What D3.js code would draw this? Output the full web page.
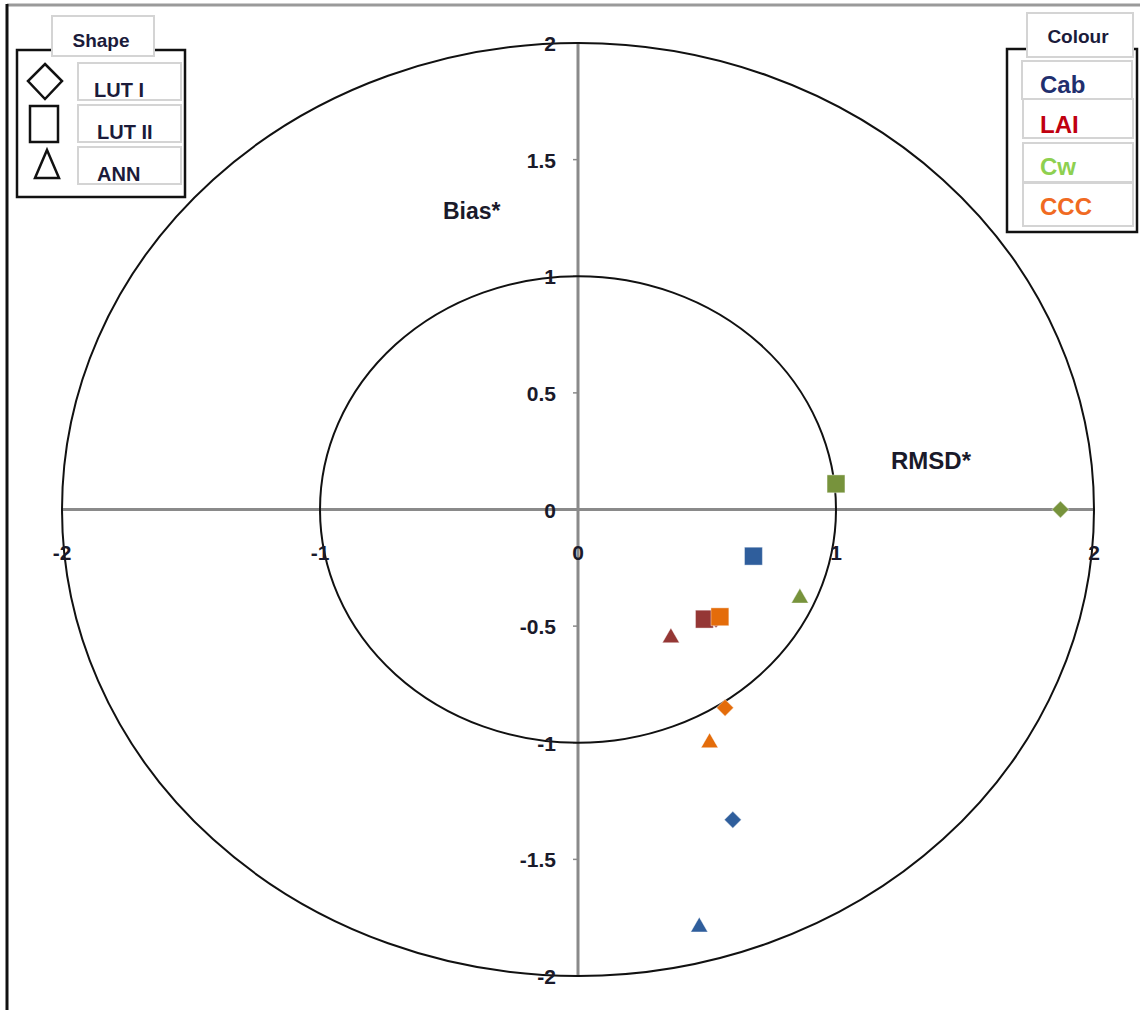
<!DOCTYPE html>
<html>
<head>
<meta charset="utf-8">
<script src="https://cdn.jsdelivr.net/npm/d3@7"></script>
<style>
  body { margin: 0; background: #fff; }
  svg text { font-family: "Liberation Sans", Arial, sans-serif; }
</style>
</head>
<body>
<div id="grafica"></div>
<script>
// Datos: variables (color) y métodos (forma)
const variables = ["Cab", "LAI", "Cw", "CCC"];
const metodos = ["LUT I", "LUT II", "ANN"];
const coloresMarca = ["#2F5E9C", "#953735", "#77933C", "#E46C0A"];
const coloresTexto = ["#1F2F6E", "#C00010", "#8ED050", "#F06A22"];

// RMSD* (eje x) y Bias* (eje y), un valor por variable en el orden de "variables"
const rmsdLUT1 = [0.60, 0.535, 1.87, 0.57];
const biasLUT1 = [-1.33, -0.47, 0.0, -0.85];
const rmsdLUT2 = [0.68, 0.49, 1.0, 0.55];
const biasLUT2 = [-0.20, -0.47, 0.11, -0.46];
const rmsdANN = [0.47, 0.36, 0.86, 0.51];
const biasANN = [-1.79, -0.55, -0.38, -1.0];

const ticksX = [-2, -1, 0, 1, 2];
const ticksY = [-2, -1.5, -1, -0.5, 0, 0.5, 1, 1.5, 2];
const radios = [1, 2];

// 1. Lienzo
const W = 1140, H = 1010;
const svg = d3.select("#grafica").append("svg")
    .attr("width", W).attr("height", H);

// Marco exterior (solo arriba e izquierda visibles)
svg.append("line").attr("x1", 7).attr("x2", W).attr("y1", 5).attr("y2", 5)
    .attr("stroke", "#9a9a9a").attr("stroke-width", 3);
svg.append("line").attr("x1", 7).attr("x2", 7).attr("y1", 4).attr("y2", H)
    .attr("stroke", "#111").attr("stroke-width", 3);

// 2. Escalas
const x = d3.scaleLinear().domain([-2, 2]).range([62, 1094]);
const y = d3.scaleLinear().domain([-2, 2]).range([976, 43]);

// 3. Ejes (líneas grises cruzadas)
svg.append("line").attr("x1", x(-2)).attr("x2", x(2)).attr("y1", y(0)).attr("y2", y(0))
    .attr("stroke", "#8a8a8a").attr("stroke-width", 3);
svg.append("line").attr("x1", x(0)).attr("x2", x(0)).attr("y1", y(2)).attr("y2", y(-2))
    .attr("stroke", "#8a8a8a").attr("stroke-width", 3);

// pequeñas marcas de graduación
svg.selectAll(".tx").data(ticksX).join("line")
    .attr("x1", d => x(d)).attr("x2", d => x(d))
    .attr("y1", y(0)).attr("y2", y(0) + 5)
    .attr("stroke", "#8a8a8a").attr("stroke-width", 1.5);
svg.selectAll(".ty").data(ticksY).join("line")
    .attr("x1", x(0) - 5).attr("x2", x(0))
    .attr("y1", d => y(d)).attr("y2", d => y(d))
    .attr("stroke", "#8a8a8a").attr("stroke-width", 1.5);

// Elipses (círculos en unidades de datos)
svg.selectAll(".circulo").data(radios).join("ellipse")
    .attr("cx", x(0)).attr("cy", y(0))
    .attr("rx", d => x(d) - x(0))
    .attr("ry", d => y(0) - y(d))
    .attr("fill", "none").attr("stroke", "#111").attr("stroke-width", 2);

// Etiquetas de los ejes
svg.selectAll(".lx").data(ticksX).join("text")
    .attr("x", d => x(d)).attr("y", y(0) + 50)
    .attr("text-anchor", "middle")
    .attr("font-size", 21).attr("font-weight", "bold").attr("fill", "#1a1a2a")
    .text(d => d);
svg.selectAll(".ly").data(ticksY).join("text")
    .attr("x", x(0) - 22).attr("y", d => y(d) + 8)
    .attr("text-anchor", "end")
    .attr("font-size", 21).attr("font-weight", "bold").attr("fill", "#1a1a2a")
    .text(d => d);

svg.append("text").attr("x", 443).attr("y", 219)
    .attr("font-size", 23).attr("font-weight", "bold").attr("fill", "#1a1a2a")
    .text("Bias*");
svg.append("text").attr("x", 891).attr("y", 469)
    .attr("font-size", 24).attr("font-weight", "bold").attr("fill", "#1a1a2a")
    .text("RMSD*");

// 4. Marcas de datos
const formas = {
    "LUT I": d3.symbol().type(d3.symbolSquare).size(145),
    "LUT II": d3.symbol().type(d3.symbolSquare).size(320),
    "ANN": d3.symbol().type(d3.symbolTriangle).size(125)
};
const series = [
    { metodo: "LUT I", rmsd: rmsdLUT1, bias: biasLUT1 },
    { metodo: "LUT II", rmsd: rmsdLUT2, bias: biasLUT2 },
    { metodo: "ANN", rmsd: rmsdANN, bias: biasANN }
];
const puntos = [];
series.forEach(s => {
    variables.forEach((v, i) => {
        puntos.push({ metodo: s.metodo, variable: v, color: coloresMarca[i], rx: s.rmsd[i], by: s.bias[i] });
    });
});

svg.append("g").selectAll("path").data(puntos).join("path")
    .attr("d", d => formas[d.metodo]())
    .attr("transform", d => `translate(${x(d.rx)},${y(d.by)})` + (d.metodo === "LUT I" ? " rotate(45)" : ""))
    .attr("fill", d => d.color)
    .attr("stroke", "#fff").attr("stroke-opacity", 0.4).attr("stroke-width", 1);

// 5. Leyenda de forma
const fuenteLeyenda = "'Open Sans', sans-serif";
const leyForma = svg.append("g");
leyForma.append("path")
    .attr("d", "M52,50 H17 V197 H185 V50 H154")
    .attr("fill", "none").attr("stroke", "#111").attr("stroke-width", 2.5);
leyForma.append("rect").attr("x", 52).attr("y", 16).attr("width", 102).attr("height", 40)
    .attr("fill", "#fff").attr("stroke", "#d4d4d4").attr("stroke-width", 2);
leyForma.append("text").attr("x", 101).attr("y", 47).attr("text-anchor", "middle")
    .attr("font-family", fuenteLeyenda).attr("font-size", 19).attr("font-weight", "bold").attr("fill", "#1b1b3a")
    .text("Shape");

const filasForma = [63, 105, 147];
const xTextoForma = [94, 97, 97];
const iconos = [
    "M45,64 L62,81 L45,99 L28,81 Z",
    "M30,106 H58 V142 H30 Z",
    "M47,150 L59,178 L35,178 Z"
];
metodos.forEach((m, i) => {
    leyForma.append("rect").attr("x", 78).attr("y", filasForma[i]).attr("width", 103).attr("height", 37)
        .attr("fill", "#fff").attr("stroke", "#d4d4d4").attr("stroke-width", 2);
    leyForma.append("text").attr("x", xTextoForma[i]).attr("y", filasForma[i] + 34)
        .attr("font-family", fuenteLeyenda).attr("font-size", 20).attr("font-weight", "bold").attr("fill", "#1b1b3a")
        .text(m);
    leyForma.append("path").attr("d", iconos[i])
        .attr("fill", "none").attr("stroke", "#111").attr("stroke-width", 2.5);
});

// 6. Leyenda de color
const leyColor = svg.append("g");
leyColor.append("path")
    .attr("d", "M1027,49 H1007 V232 H1137 V49 H1134")
    .attr("fill", "none").attr("stroke", "#111").attr("stroke-width", 2.5);
leyColor.append("rect").attr("x", 1027).attr("y", 13).attr("width", 106).attr("height", 44)
    .attr("fill", "#fff").attr("stroke", "#d4d4d4").attr("stroke-width", 2);
leyColor.append("text").attr("x", 1078).attr("y", 43).attr("text-anchor", "middle")
    .attr("font-family", fuenteLeyenda).attr("font-size", 19).attr("font-weight", "bold").attr("fill", "#1b1b3a")
    .text("Colour");

const filasColor = [61, 99, 143, 183];
const altosColor = [38, 39, 39, 43];
const baseColor = [93, 133, 175, 215];
variables.forEach((v, i) => {
    leyColor.append("rect").attr("x", 1022 + (i > 0 ? 1 : 0)).attr("y", filasColor[i])
        .attr("width", 110).attr("height", altosColor[i])
        .attr("fill", "#fff").attr("stroke", "#d4d4d4").attr("stroke-width", 2);
    leyColor.append("text").attr("x", 1040).attr("y", baseColor[i])
        .attr("font-size", 24).attr("font-weight", "bold").attr("fill", coloresTexto[i])
        .text(v);
});
</script>
</body>
</html>
